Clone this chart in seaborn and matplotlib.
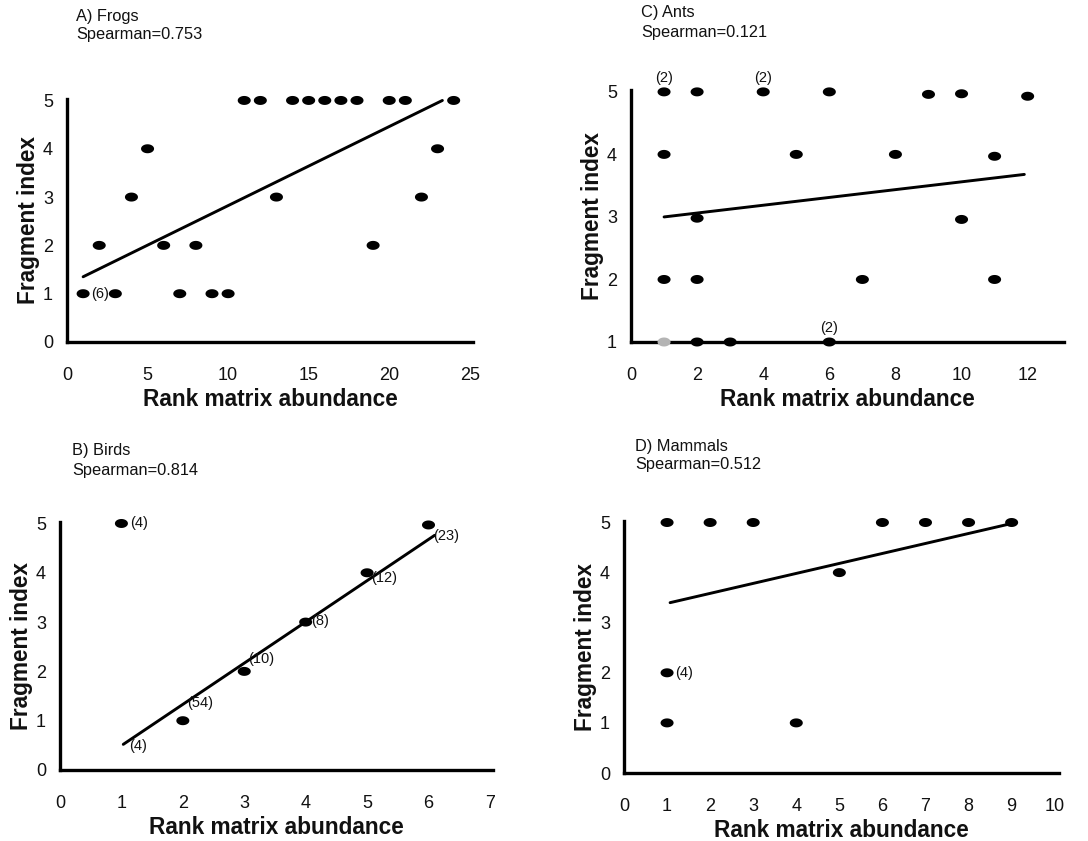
import numpy as np
import matplotlib
matplotlib.use("Agg")
import matplotlib.pyplot as plt
import seaborn as sns

# ---- data ----
# A) Frogs
frogs_rank = [11, 12, 14, 15, 16, 17, 18, 20, 21, 24, 5, 23, 4, 13, 22, 2, 6, 8, 19, 1, 3, 7, 9, 10]
frogs_index = [5, 5, 5, 5, 5, 5, 5, 5, 5, 5, 4, 4, 3, 3, 3, 2, 2, 2, 2, 1, 1, 1, 1, 1]
frogs_fit_x = [1.0, 23.3]
frogs_fit_y = [1.35, 5.0]
frogs_counts = [(1, 1, "(6)")]

# C) Ants
ants_rank = [1, 2, 4, 6, 9, 10, 12, 1, 5, 8, 11, 2, 10, 1, 2, 7, 11, 2, 3, 6]
ants_index = [5, 5, 5, 5, 4.96, 4.97, 4.93, 4, 4, 4, 3.97, 2.98, 2.96, 2, 2, 2, 2, 1, 1, 1]
ants_faint_rank = [1]
ants_faint_index = [1]
ants_fit_x = [1.0, 11.9]
ants_fit_y = [3.0, 3.68]
ants_counts = [(1, 5, "(2)"), (4, 5, "(2)"), (6, 1, "(2)")]

# B) Birds
birds_rank = [1, 2, 3, 4, 5, 6]
birds_index = [5, 1, 2, 3, 4, 4.97]
birds_labels = ["(4)", "(54)", "(10)", "(8)", "(12)", "(23)"]
birds_fit_x = [1.03, 6.1]
birds_fit_y = [0.52, 4.76]
birds_fit_label = "(4)"

# D) Mammals
mammals_rank = [1, 2, 3, 6, 7, 8, 9, 5, 1, 1, 4]
mammals_index = [5, 5, 5, 5, 5, 5, 5, 4, 2, 1, 1]
mammals_fit_x = [1.07, 9.1]
mammals_fit_y = [3.4, 5.0]
mammals_counts = [(1, 2, "(4)")]

titles = {"A": ("A) Frogs", "Spearman=0.753"),
          "B": ("B) Birds", "Spearman=0.814"),
          "C": ("C) Ants", "Spearman=0.121"),
          "D": ("D) Mammals", "Spearman=0.512")}

sns.set_theme(style="white")
plt.rcParams["font.family"] = ["Liberation Sans", "DejaVu Sans"]

W, H = 1088, 841
fig = plt.figure(figsize=(W / 100, H / 100), dpi=100)

# ellipse marker (wider than tall, like the scanned dots)
t = np.linspace(0, 2 * np.pi, 60)
dot = np.column_stack([1.45 * np.cos(t), np.sin(t)])


def px_axes(left, top, right, bottom):
    return fig.add_axes([left / W, 1 - bottom / H, (right - left) / W, (bottom - top) / H])


def style(ax, xlim, ylim, xticks, yticks):
    ax.set_xlim(*xlim)
    ax.set_ylim(*ylim)
    ax.set_xticks(xticks)
    ax.set_yticks(yticks)
    for s in ["top", "right"]:
        ax.spines[s].set_visible(False)
    for s in ["left", "bottom"]:
        ax.spines[s].set_linewidth(2.4)
        ax.spines[s].set_color("black")
    ax.tick_params(axis="x", length=0, pad=18, labelsize=13, colors="#111111")
    ax.tick_params(axis="y", length=0, pad=10, labelsize=13, colors="#111111")
    ax.set_xlabel("Rank matrix abundance", fontsize=16.3, fontweight="bold", labelpad=3, color="#111111")
    ax.set_ylabel("Fragment index", fontsize=16.3, fontweight="bold", labelpad=2, color="#111111")
    ax.patch.set_alpha(0)


def scatter(ax, x, y, color="black"):
    sns.scatterplot(x=x, y=y, ax=ax, marker=dot, s=88, color=color,
                    edgecolor="none", clip_on=False, zorder=3)


def fit(ax, x, y):
    sns.lineplot(x=x, y=y, ax=ax, color="black", linewidth=2.1, zorder=2)


def counts(ax, items, dx=6, dy=0, ha="left"):
    for x, y, lab in items:
        ax.annotate(lab, (x, y), xytext=(dx, dy), textcoords="offset points",
                    ha=ha, va="center", fontsize=10.5, color="#111111")


def header(key, x, y):
    a, b = titles[key]
    fig.text(x / W, 1 - y / H, a, fontsize=11.8, va="center", ha="left", color="#111111")
    fig.text(x / W, 1 - (y + 19) / H, b, fontsize=11.8, va="center", ha="left", color="#111111")


# A) Frogs
ax = px_axes(67, 99, 473, 342)
scatter(ax, frogs_rank, frogs_index)
fit(ax, frogs_fit_x, frogs_fit_y)
counts(ax, frogs_counts, dx=6)
style(ax, (0, 25.2), (0, 5.03), [0, 5, 10, 15, 20, 25], [0, 1, 2, 3, 4, 5])
header("A", 76, 16)

# C) Ants
ax = px_axes(631, 90, 1064, 342)
scatter(ax, ants_rank, ants_index)
scatter(ax, ants_faint_rank, ants_faint_index, color="#b4b4b4")
fit(ax, ants_fit_x, ants_fit_y)
counts(ax, ants_counts, dx=0, dy=10, ha="center")
style(ax, (0, 13.1), (1, 5.03), [0, 2, 4, 6, 8, 10, 12], [1, 2, 3, 4, 5])
header("C", 641, 13)

# B) Birds
ax = px_axes(60, 522, 493, 770)
scatter(ax, birds_rank, birds_index)
fit(ax, birds_fit_x, birds_fit_y)
bird_offsets = [(6, 0), (3, 13), (3, 9), (4, 1), (3, -4), (3, -8)]
for x, y, lab, (dx, dy) in zip(birds_rank, birds_index, birds_labels, bird_offsets):
    ax.annotate(lab, (x, y), xytext=(dx, dy), textcoords="offset points",
                ha="left", va="center", fontsize=10.5, color="#111111")
ax.annotate(birds_fit_label, (birds_fit_x[0], birds_fit_y[0]), xytext=(4, -1),
            textcoords="offset points", ha="left", va="center", fontsize=10.5,
            color="#111111")
style(ax, (0, 7.05), (0, 5.03), list(range(0, 8)), [0, 1, 2, 3, 4, 5])
header("B", 72, 451)

# D) Mammals
ax = px_axes(624, 521, 1059, 773)
scatter(ax, mammals_rank, mammals_index)
fit(ax, mammals_fit_x, mammals_fit_y)
counts(ax, mammals_counts, dx=6)
style(ax, (0, 10.1), (0, 5.03), list(range(0, 11)), [0, 1, 2, 3, 4, 5])
header("D", 635, 446)

fig.savefig("out.png", dpi=100)
